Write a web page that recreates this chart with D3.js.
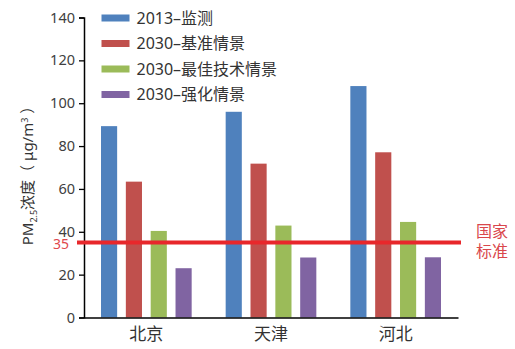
<!DOCTYPE html>
<html><head><meta charset="utf-8">
<script src="https://cdn.jsdelivr.net/npm/d3@7"></script>
<style>
html,body{margin:0;padding:0;background:#fff;}
text{font-family:"Noto Sans","Noto Sans CJK SC",sans-serif;}
</style></head>
<body>
<svg id="c" width="515" height="349"></svg>
<script>
const categories = ["北京", "天津", "河北"];
const seriesNames = ["2013–监测", "2030–基准情景", "2030–最佳技术情景", "2030–强化情景"];
const seriesColors = ["#4f81bd", "#c0504d", "#9bbb59", "#8064a2"];
const values2013 = [89.3, 96.0, 108.0];
const valuesBase = [63.4, 71.8, 77.1];
const valuesBest = [40.4, 42.9, 44.6];
const valuesStrong = [23.0, 28.0, 28.1];
const yTicks = [0, 20, 40, 60, 80, 100, 120, 140];
const standard = 35;

const series = [values2013, valuesBase, valuesBest, valuesStrong];
const svg = d3.select("#c");
const m = {left: 84, right: 57, top: 17.5, bottom: 31.5};
const W = 515, H = 349;

const x = d3.scaleBand().domain(categories).range([m.left, W - m.right]).paddingInner(0).paddingOuter(0);
const x1 = d3.scaleBand().domain(d3.range(series.length)).range([17, x.bandwidth() - 17]).paddingInner(0.35).paddingOuter(0);
const y = d3.scaleLinear().domain([0, 140]).range([H - m.bottom, m.top]);

// bars
categories.forEach((c, ci) => {
  series.forEach((s, si) => {
    svg.append("rect")
      .attr("x", x(c) + x1(si))
      .attr("y", y(s[ci]))
      .attr("width", x1.bandwidth())
      .attr("height", y(0) - y(s[ci]))
      .attr("fill", seriesColors[si]);
  });
});

// y axis
const ya = svg.append("g").attr("transform", `translate(${m.left},0)`)
  .call(d3.axisLeft(y).tickValues(yTicks).tickSize(5).tickPadding(4));
ya.select(".domain").attr("stroke", "#000").attr("stroke-width", 1.5);
ya.selectAll(".tick line").attr("stroke", "#000").attr("stroke-width", 1.3);
ya.selectAll(".tick text").attr("font-size", 14.5).attr("fill", "#404040")
  .attr("font-family", "'Open Sans','Noto Sans',sans-serif");

// x axis
const xa = svg.append("g").attr("transform", `translate(0,${y(0)})`)
  .call(d3.axisBottom(x).tickSize(0).tickPadding(10));
xa.select(".domain").attr("stroke", "#000").attr("stroke-width", 1.5);
xa.selectAll(".tick text").attr("font-size", 17).attr("fill", "#333")
  .attr("font-family", "'Noto Sans CJK SC',sans-serif");

// standard line
svg.append("line")
  .attr("x1", m.left - 7).attr("x2", W - m.right + 3)
  .attr("y1", y(standard)).attr("y2", y(standard))
  .attr("stroke", "#e8272b").attr("stroke-width", 4);
svg.append("text").attr("x", 69).attr("y", y(standard) + 2).attr("dy", "0.35em")
  .attr("text-anchor", "end").attr("font-size", 14).attr("fill", "#e0474c")
  .attr("font-family", "'Open Sans','Noto Sans',sans-serif").text(standard);
svg.append("text").attr("x", 476).attr("y", y(standard) - 11).attr("dy", "0.35em")
  .attr("font-size", 16).attr("fill", "#d9474c").attr("font-family", "'Noto Sans CJK SC',sans-serif").text("国家");
svg.append("text").attr("x", 476).attr("y", y(standard) + 9).attr("dy", "0.35em")
  .attr("font-size", 16).attr("fill", "#d9474c").attr("font-family", "'Noto Sans CJK SC',sans-serif").text("标准");

// y label
const yl = svg.append("text")
  .attr("transform", `translate(33,172) rotate(-90)`)
  .attr("text-anchor", "middle").attr("font-size", 15).attr("fill", "#333")
  .attr("font-family", "'Noto Sans CJK SC',sans-serif");
yl.append("tspan").text("PM");
yl.append("tspan").attr("font-size", 9).attr("dy", 4).text("2.5");
yl.append("tspan").attr("dy", -4).text("浓度（ μg/m");
yl.append("tspan").attr("font-size", 9).attr("dy", -5).text("3");
yl.append("tspan").attr("dy", 5).text(" ）");

// legend
seriesNames.forEach((n, i) => {
  const g = svg.append("g").attr("transform", `translate(101.5,${18 + i * 25.5})`);
  g.append("rect").attr("x", 0).attr("y", -3.5).attr("width", 28).attr("height", 7).attr("fill", seriesColors[i]);
  g.append("text").attr("x", 35).attr("y", 0).attr("dy", "0.35em").attr("font-size", 16)
    .attr("fill", "#333").attr("font-family", "'Noto Sans CJK SC',sans-serif").text(n);
});
</script>
</body></html>
